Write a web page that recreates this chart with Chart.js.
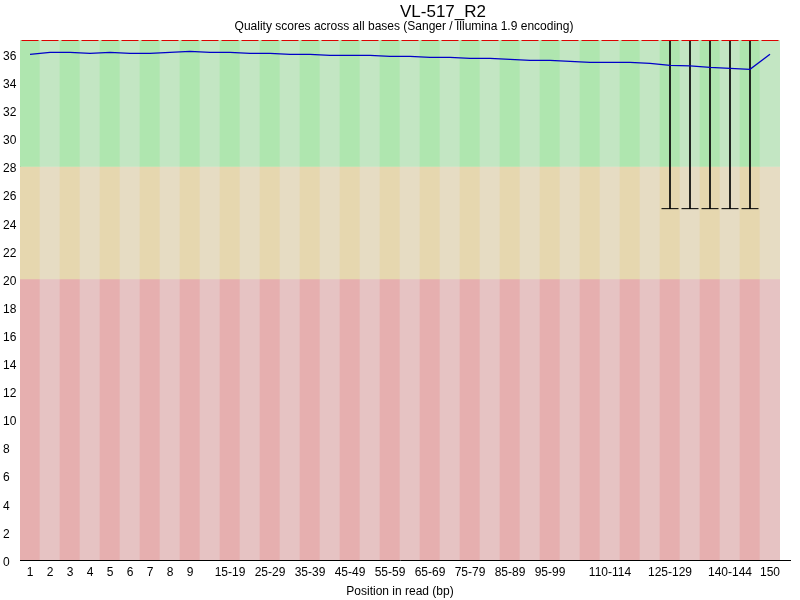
<!DOCTYPE html>
<html>
<head>
<meta charset="utf-8">
<script src="https://cdn.jsdelivr.net/npm/chart.js@4/dist/chart.umd.min.js"></script>
<style>
  html, body { margin: 0; padding: 0; background: #fff; }
</style>
</head>
<body>
<canvas id="myChart" width="800" height="600"></canvas>
<script>
var chartTitle = 'VL-517_R2';
var chartSubtitle = 'Quality scores across all bases (Sanger / Illumina 1.9 encoding)';

// positions in read (bp)
var categories = ['1','2','3','4','5','6','7','8','9',
  '10-14','15-19','20-24','25-29','30-34','35-39','40-44','45-49','50-54','55-59',
  '60-64','65-69','70-74','75-79','80-84','85-89','90-94','95-99','100-104','105-109',
  '110-114','115-119','120-124','125-129','130-134','135-139','140-144','145-149','150'];

// labels actually printed under the axis
var tickLabels = ['1','2','3','4','5','6','7','8','9',
  '','15-19','','25-29','','35-39','','45-49','','55-59',
  '','65-69','','75-79','','85-89','','95-99','','',
  '110-114','','','125-129','','','140-144','','150'];

var meanQ = [35.98, 36.12, 36.12, 36.05, 36.12, 36.05, 36.05, 36.12, 36.19,
  36.12, 36.12, 36.05, 36.05, 35.98, 35.98, 35.91, 35.91, 35.91, 35.84,
  35.84, 35.77, 35.77, 35.69, 35.69, 35.62, 35.55, 35.55, 35.48, 35.41,
  35.41, 35.41, 35.34, 35.20, 35.16, 35.05, 34.98, 34.91, 35.98];

var medianQ = [37,37,37,37,37,37,37,37,37, 37,37,37,37,37,37,37,37,37,37,
  37,37,37,37,37,37,37,37,37,37, 37,37,37,37,37,37,37,37,37];

var lower10 = [37,37,37,37,37,37,37,37,37, 37,37,37,37,37,37,37,37,37,37,
  37,37,37,37,37,37,37,37,37,37, 37,37,37,25,25,25,25,25,37];

var upper90 = [37,37,37,37,37,37,37,37,37, 37,37,37,37,37,37,37,37,37,37,
  37,37,37,37,37,37,37,37,37,37, 37,37,37,37,37,37,37,37,37];

var yTicks = [0,2,4,6,8,10,12,14,16,18,20,22,24,26,28,30,32,34,36];
var yMax = 37;

// quality zones: [from, to]
var badZone = [0, 20];
var warnZone = [20, 28];
var goodZone = [28, 37];

var FONT = '"Liberation Sans", Arial, sans-serif';

function stripes(dark, light) {
  return categories.map(function (c, i) { return i % 2 === 0 ? dark : light; });
}
function zone(range) {
  return categories.map(function () { return range; });
}

var whiskers = categories.map(function (c, i) { return [lower10[i], upper90[i]]; });
var caps = lower10.map(function (v, i) { return v < upper90[i] ? v : null; });

// title + subtitle, placed like the original (title sits right of centre)
// also the x axis line runs a bit past the plot, as in the original
var headings = {
  id: 'headings',
  afterDraw: function (c) {
    var g = c.ctx, a = c.chartArea;
    g.save();
    g.strokeStyle = '#000';
    g.lineWidth = 1;
    g.beginPath();
    g.moveTo(a.right, Math.round(a.bottom) + 0.5);
    g.lineTo(a.right + 11, Math.round(a.bottom) + 0.5);
    g.stroke();
    g.fillStyle = '#000';
    g.textAlign = 'center';
    g.textBaseline = 'alphabetic';
    g.font = '17px ' + FONT;
    g.fillText(chartTitle, 443, 16.5);
    g.font = '12px ' + FONT;
    g.fillText(chartSubtitle, 404, 30.3);
    g.restore();
  }
};

var ctx = document.getElementById('myChart').getContext('2d');

var chart = new Chart(ctx, {
  data: {
    labels: categories,
    datasets: [
      {
        type: 'line',
        label: 'Mean',
        data: meanQ,
        borderColor: '#0000c8',
        borderWidth: 1.3,
        pointRadius: 0,
        tension: 0,
        order: 0
      },
      {
        type: 'line',
        label: 'Median',
        data: medianQ,
        showLine: false,
        pointStyle: 'line',
        pointRadius: 8.5,
        pointBorderWidth: 2,
        pointBorderColor: '#dd0000',
        pointBackgroundColor: '#dd0000',
        order: 1
      },
      {
        type: 'line',
        label: 'Lower cap',
        data: caps,
        showLine: false,
        pointStyle: 'line',
        pointRadius: 8.5,
        pointBorderWidth: 1,
        pointBorderColor: '#000',
        order: 2
      },
      {
        type: 'bar',
        label: '10-90%',
        data: whiskers,
        backgroundColor: '#000',
        barThickness: 1,
        grouped: false,
        order: 3
      },
      {
        type: 'bar',
        data: zone(goodZone),
        backgroundColor: stripes('#afe6af', '#c3e6c3'),
        categoryPercentage: 1, barPercentage: 1,
        grouped: false,
        order: 10
      },
      {
        type: 'bar',
        data: zone(warnZone),
        backgroundColor: stripes('#e6d7af', '#e6dcc3'),
        categoryPercentage: 1, barPercentage: 1,
        grouped: false,
        order: 10
      },
      {
        type: 'bar',
        data: zone(badZone),
        backgroundColor: stripes('#e6afaf', '#e6c3c3'),
        categoryPercentage: 1, barPercentage: 1,
        grouped: false,
        order: 10
      }
    ]
  },
  options: {
    responsive: false,
    animation: false,
    devicePixelRatio: 1,
    layout: { padding: { left: 3, right: 20, top: 40, bottom: 0 } },
    plugins: {
      legend: { display: false },
      tooltip: { enabled: false },
      title: { display: false }
    },
    scales: {
      x: {
        offset: true,
        grid: { display: false, drawTicks: false },
        border: { display: true, color: '#000', width: 1 },
        ticks: {
          autoSkip: false,
          maxRotation: 0,
          padding: 5,
          color: '#000',
          font: { family: FONT, size: 12 },
          callback: function (v, i) { return tickLabels[i]; }
        },
        title: {
          display: true,
          text: 'Position in read (bp)',
          color: '#000',
          font: { family: FONT, size: 12 },
          padding: { top: 0, bottom: 1 }
        },
        afterFit: function (s) { s.height = 40; }
      },
      y: {
        min: 0,
        max: yMax,
        grid: { display: false, drawTicks: false },
        border: { display: true, color: '#000', width: 1 },
        ticks: {
          crossAlign: 'far',
          labelOffset: 2.5,
          color: '#000',
          font: { family: FONT, size: 12 }
        },
        afterBuildTicks: function (s) {
          s.ticks = yTicks.map(function (v) { return { value: v }; });
        },
        afterFit: function (s) { s.width = 17; }
      }
    }
  },
  plugins: [headings]
});
</script>
</body>
</html>
